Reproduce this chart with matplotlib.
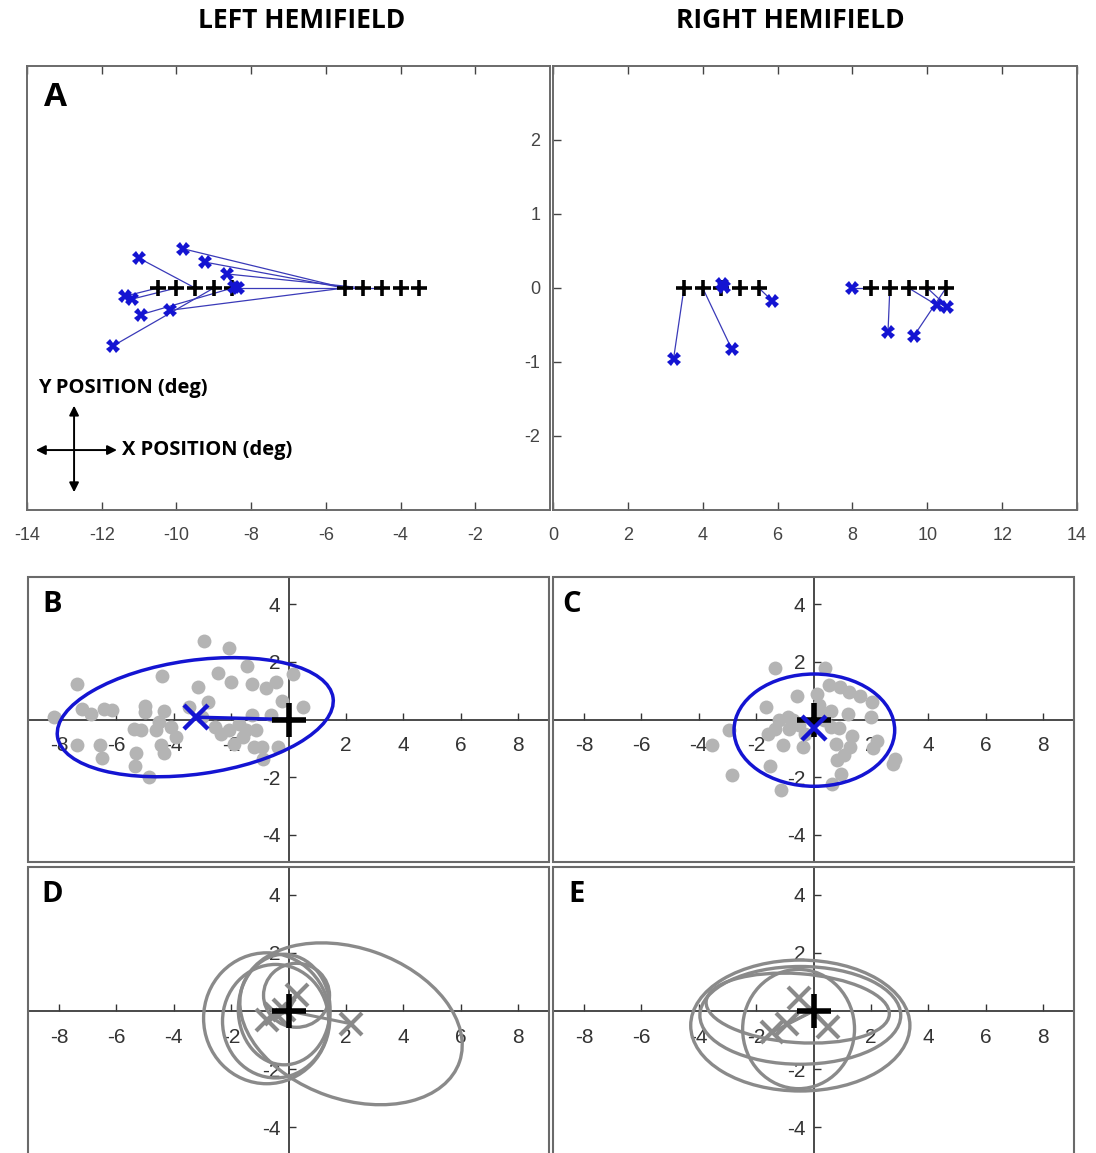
import numpy as np
import matplotlib.pyplot as plt
from matplotlib.patches import Ellipse, Rectangle

plt.rcParams['axes.unicode_minus'] = False

W, H = 1096, 1153

# ---- panel A: targets (black +) and responses (blue X) ----
targets_left = [-10.5, -10.0, -9.5, -9.0, -8.5, -5.5, -5.0, -4.5, -4.0, -3.5]
resp_left_x = [-9.82, -9.24, -8.65, -8.36, -10.16, -10.99, -11.37, -11.19, -10.95, -11.69, -8.47]
resp_left_y = [0.53, 0.35, 0.19, 0.00, -0.30, 0.40, -0.11, -0.15, -0.36, -0.78, 0.01]
resp_left_target = [-5.5, -5.5, -5.0, -4.5, -5.5, -9.5, -10.5, -10.0, -8.5, -9.0, -8.5]

targets_right = [3.5, 4.0, 4.5, 5.0, 5.5, 8.5, 9.0, 9.5, 10.0, 10.5]
resp_right_x = [3.22, 4.78, 4.52, 4.57, 5.85, 8.0, 8.95, 9.64, 10.25, 10.53]
resp_right_y = [-0.96, -0.83, 0.06, 0.01, -0.17, 0.0, -0.60, -0.65, -0.23, -0.25]
resp_right_target = [3.5, 4.0, 4.5, 4.5, 5.5, 8.5, 9.0, 10.5, 9.5, 10.0]

# ---- panel B: single-trial errors, mean and ellipse ----
b_x = [-8.17, -7.36, -7.19, -6.90, -7.36, -6.58, -6.49, -6.43, -6.16, -5.38, -5.15, -5.30, -5.35,
       -4.86, -5.00, -5.00, -4.40, -4.34, -4.63, -4.45, -4.34, -3.93, -4.51, -2.94, -3.15, -3.47,
       -2.79, -2.44, -2.07, -2.01, -2.56, -2.36, -2.07, -1.90, -1.72, -1.49, -1.45, -1.26, -1.28,
       -1.14, -1.20, -0.91, -0.88, -0.77, -0.44, -0.62, -0.38, -0.21, 0.14, 0.49, -4.1, -3.0, -1.6]
b_y = [0.10, 1.23, 0.37, 0.20, -0.90, -0.90, -1.33, 0.37, 0.33, -0.32, -0.38, -1.16, -1.62,
       -1.99, 0.48, 0.25, 1.52, 0.31, -0.38, -0.90, -1.16, -0.61, -0.09, 2.72, 1.14, 0.43,
       0.60, 1.60, 2.47, 1.32, -0.26, -0.49, -0.38, -0.84, -0.15, -0.38, 1.86, 1.25, 0.14,
       -0.38, -0.95, -0.95, -1.36, 1.11, 1.29, 0.14, -0.95, 0.66, 1.57, 0.43, -0.25, 0.1, -0.6]
b_mean = (-3.23, 0.08)
b_ell = (-3.25, 0.08, 9.7, 3.95, 8)

# ---- panel C ----
c_x = [-1.35, 0.39, 0.54, 0.91, 1.23, 1.63, 2.05, 1.99, 1.21, -0.58, 0.12, -1.67, -2.96, -3.53,
       -2.84, -1.51, -1.15, 0.66, 0.97, 0.82, 1.06, 1.27, 1.33, 0.79, 2.08, 2.23, 2.84, 2.78,
       -1.21, -1.06, -0.85, -0.36, -0.30, -1.33, -0.72, 0.60, 0.36, 0.60, 0.18,
       -0.5, 0.3, -0.9, -1.6, 0.9]
c_y = [1.79, 1.79, 1.20, 1.12, 0.95, 0.83, 0.60, 0.10, 0.20, 0.80, 0.89, 0.45, -0.38, -0.90,
       -1.92, -1.63, -2.44, -2.23, -1.88, -1.42, -1.25, -0.94, -0.59, -0.84, -0.98, -0.73, -1.36,
       -1.56, -0.03, -0.90, -0.32, -0.96, -0.50, -0.32, -0.03, 0.31, -0.03, -0.27, 0.49,
       -0.2, 0.2, 0.1, -0.5, -0.3]
c_mean = (0.0, -0.29)
c_ell = (0.03, -0.37, 5.6, 3.9, 0)

# ---- panels D and E: per-subject means and ellipses ----
d_mean_x = [2.18, 0.28, -0.76, -0.45, -0.15]
d_mean_y = [-0.44, 0.54, -0.32, -0.10, 0.05]
d_ell_cx = [2.18, 0.28, -0.76, -0.45, -0.15]
d_ell_cy = [-0.44, 0.54, -0.25, -0.35, 0.05]
d_ell_w = [8.0, 2.3, 4.4, 3.7, 3.2]
d_ell_h = [5.2, 2.2, 4.5, 3.9, 3.8]
d_ell_ang = [-19, 0, 0, 0, 0]

e_mean_x = [-1.44, -0.92, -0.52, 0.52]
e_mean_y = [-0.73, -0.44, 0.43, -0.55]
e_ell_cx = [-0.46, -0.46, -0.55, -0.52]
e_ell_cy = [-0.50, -0.15, 0.10, -0.62]
e_ell_w = [7.64, 7.0, 6.4, 3.9]
e_ell_h = [4.5, 3.36, 2.37, 4.1]
e_ell_ang = [0, 0, -4, 0]

cross_xticks = [-8, -6, -4, -2, 2, 4, 6, 8]
cross_yticks = [-4, -2, 2, 4]

BLUE = '#1414d2'
GREY_DOT = '#b4b4b4'
GREY = '#8a8a8a'
FRAME = '#6a6a6a'
TICKFONT = ['Liberation Sans', 'DejaVu Sans']
BOLDFONT = ['Open Sans', 'DejaVu Sans']

fig = plt.figure(figsize=(W / 100, H / 100), dpi=100)


def px_axes(x0, y0, x1, y1):
    return fig.add_axes([x0 / W, 1 - y1 / H, (x1 - x0) / W, (y1 - y0) / H])


def draw_hemifield(ax, targets, rx, ry, rt):
    for x, y, t in zip(rx, ry, rt):
        ax.plot([x, t], [y, 0], color='#3a3ab8', lw=0.9, zorder=2)
    ax.plot(targets, np.zeros(len(targets)), '+', color='k', ms=12, mew=2.6, zorder=3)
    ax.plot(rx, ry, 'X', color=BLUE, ms=10, mew=0, zorder=4)
    for s in ax.spines.values():
        s.set_color(FRAME)
        s.set_linewidth(1.4)


# panel A left
ax_l = px_axes(27, 66, 550, 510)
draw_hemifield(ax_l, targets_left, resp_left_x, resp_left_y, resp_left_target)
ax_l.set_xlim(-14, 0)
ax_l.set_ylim(-3, 3)
ax_l.set_xticks(np.arange(-14, 0, 2))
ax_l.set_yticks([])
ax_l.tick_params(axis='x', direction='in', top=True, bottom=True, length=6, width=1,
                 colors='#444444', labelsize=13, pad=12)
ax_l.text(0.054, 0.93, 'A', transform=ax_l.transAxes, ha='center', va='center',
          fontsize=24, fontweight='bold', family=BOLDFONT)
ax_l.text(0.021, 0.275, 'Y POSITION (deg)', transform=ax_l.transAxes, ha='left', va='center',
          fontsize=14.5, fontweight='bold', family=BOLDFONT)
ax_l.text(0.182, 0.135, 'X POSITION (deg)', transform=ax_l.transAxes, ha='left', va='center',
          fontsize=14.5, fontweight='bold', family=BOLDFONT)
ax_l.annotate('', xy=(0.172, 0.135), xytext=(0.017, 0.135), xycoords='axes fraction',
              textcoords='axes fraction',
              arrowprops=dict(arrowstyle='<|-|>', color='k', lw=1.4, mutation_scale=14,
                              shrinkA=0, shrinkB=0))
ax_l.annotate('', xy=(0.09, 0.235), xytext=(0.09, 0.04), xycoords='axes fraction',
              textcoords='axes fraction',
              arrowprops=dict(arrowstyle='<|-|>', color='k', lw=1.4, mutation_scale=14,
                              shrinkA=0, shrinkB=0))
for lab in ax_l.get_xticklabels():
    lab.set_family(TICKFONT)

# panel A right
ax_r = px_axes(553, 66, 1077, 510)
draw_hemifield(ax_r, targets_right, resp_right_x, resp_right_y, resp_right_target)
ax_r.set_xlim(0, 14)
ax_r.set_ylim(-3, 3)
ax_r.set_xticks(np.arange(0, 15, 2))
ax_r.set_yticks([-2, -1, 0, 1, 2])
ax_r.tick_params(axis='x', direction='in', top=True, bottom=True, length=6, width=1,
                 colors='#444444', labelsize=13, pad=12)
ax_r.tick_params(axis='y', direction='in', left=True, right=False, length=6, width=1,
                 colors='#444444', labelsize=13, pad=9)
for lab in ax_r.get_xticklabels() + ax_r.get_yticklabels():
    lab.set_family(TICKFONT)

fig.text(302 / W, 1 - 20 / H, 'LEFT HEMIFIELD', ha='center', va='center',
         fontsize=19, fontweight='bold', family=BOLDFONT)
fig.text(790 / W, 1 - 20 / H, 'RIGHT HEMIFIELD', ha='center', va='center',
         fontsize=19, fontweight='bold', family=BOLDFONT)


def cross_axes(ax, letter, lx):
    ax.set_xlim(-9.08, 9.08)
    ax.set_ylim(-4.95, 4.95)
    for side in ['top', 'right']:
        ax.spines[side].set_visible(False)
    for side in ['left', 'bottom']:
        ax.spines[side].set_position('zero')
        ax.spines[side].set_color('#3c3c3c')
        ax.spines[side].set_linewidth(1.3)
    ax.set_xticks(cross_xticks)
    ax.set_yticks(cross_yticks)
    ax.tick_params(axis='x', direction='in', length=5, width=1, colors='#333333',
                   labelsize=15, pad=12)
    ax.tick_params(axis='y', direction='in', length=5, width=1, colors='#333333',
                   labelsize=15, pad=6)
    for lab in ax.get_xticklabels() + ax.get_yticklabels():
        lab.set_family(TICKFONT)
    ax.add_patch(Rectangle((0, 0), 1, 1, transform=ax.transAxes, fill=False, ec=FRAME,
                           lw=1.5, clip_on=False, zorder=10))
    ax.text(lx, 0.905, letter, transform=ax.transAxes, ha='center', va='center',
            fontsize=21, fontweight='bold', family=BOLDFONT)


# panel B
ax_b = px_axes(28, 577, 549, 862)
cross_axes(ax_b, 'B', 0.046)
ax_b.plot(b_x, b_y, 'o', color=GREY_DOT, ms=10, mew=0, zorder=3)
cx, cy, w, h, ang = b_ell
ax_b.add_patch(Ellipse((cx, cy), w, h, angle=ang, fill=False, ec=BLUE, lw=2.5, zorder=4))
ax_b.plot([b_mean[0], 0], [b_mean[1], 0], color=BLUE, lw=2.5, zorder=4)
ax_b.plot(0, 0, '+', color='k', ms=24, mew=4, zorder=5)
ax_b.plot(b_mean[0], b_mean[1], 'x', color=BLUE, ms=17, mew=3.2, zorder=6)

# panel C
ax_c = px_axes(553, 577, 1074, 862)
cross_axes(ax_c, 'C', 0.036)
ax_c.plot(c_x, c_y, 'o', color=GREY_DOT, ms=10, mew=0, zorder=3)
cx, cy, w, h, ang = c_ell
ax_c.add_patch(Ellipse((cx, cy), w, h, angle=ang, fill=False, ec=BLUE, lw=2.5, zorder=4))
ax_c.plot(0, 0, '+', color='k', ms=24, mew=4, zorder=5)
ax_c.plot(c_mean[0], c_mean[1], 'x', color=BLUE, ms=17, mew=3.2, zorder=6)


def draw_group(ax, mx, my, ecx, ecy, ew, eh, ea):
    for x, y, w, h, a in zip(ecx, ecy, ew, eh, ea):
        ax.add_patch(Ellipse((x, y), w, h, angle=a, fill=False, ec=GREY, lw=2.4, zorder=3))
    for x, y in zip(mx, my):
        ax.plot([x, 0], [y, 0], color=GREY, lw=2.2, zorder=3)
    ax.plot(mx, my, 'x', color=GREY, ms=16, mew=3, zorder=4)
    ax.plot(0, 0, '+', color='k', ms=24, mew=4, zorder=5)


# panel D
ax_d = px_axes(28, 867, 549, 1155)
cross_axes(ax_d, 'D', 0.046)
draw_group(ax_d, d_mean_x, d_mean_y, d_ell_cx, d_ell_cy, d_ell_w, d_ell_h, d_ell_ang)

# panel E
ax_e = px_axes(553, 867, 1074, 1155)
cross_axes(ax_e, 'E', 0.046)
draw_group(ax_e, e_mean_x, e_mean_y, e_ell_cx, e_ell_cy, e_ell_w, e_ell_h, e_ell_ang)

fig.savefig('out.png', dpi=100)
